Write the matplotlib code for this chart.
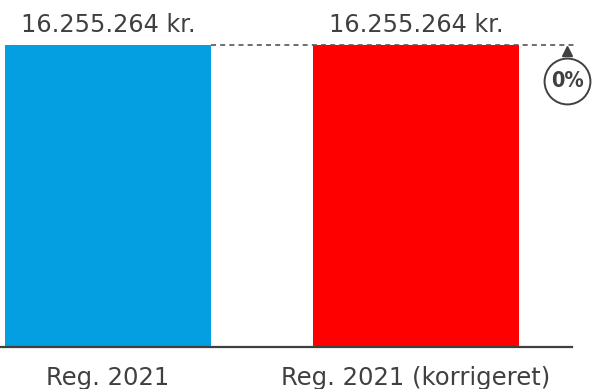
import matplotlib
matplotlib.use("Agg")
import matplotlib.pyplot as plt
from matplotlib.transforms import offset_copy

categories = ["Reg. 2021", "Reg. 2021 (korrigeret)"]
values = [16255264, 16255264]
colors = ["#039fe0", "#ff0000"]
value_labels = ["16.255.264 kr.", "16.255.264 kr."]

text_color = "#404040"
font = dict(family="DejaVu Sans")

fig = plt.figure(figsize=(5.92, 3.89), dpi=100)
ax = fig.add_axes([0, 1 - 347 / 389, 572 / 592, (347 - 45) / 389])

positions = [0, 1]
ax.bar(positions, values, width=0.669, color=colors)
ax.set_xlim(-0.3506, 1.506)
ax.set_ylim(0, max(values))

for x, v, lab in zip(positions, values, value_labels):
    ax.annotate(lab, (x, v), xytext=(0, 6), textcoords="offset points",
                ha="center", va="bottom", fontsize=17.3, color=text_color,
                annotation_clip=False, **font)

for x, lab in zip(positions, categories):
    ax.annotate(lab, (x, 0), xytext=(0, -13.5), textcoords="offset points",
                ha="center", va="top", fontsize=17.5, color=text_color,
                annotation_clip=False, **font)

# dashed reference line from first bar top across to the change badge
x_ann = positions[1] + 0.49
ax.plot([positions[0] + 0.3345, x_ann + 0.033], [values[0], values[0]],
        ls=(0, (3, 2.5)), color="#555555", lw=1.2, clip_on=False)

tri_tr = offset_copy(ax.transData, fig=fig, x=0, y=-6, units="dots")
ax.plot(x_ann, values[1], marker="^", ms=7.5, color=text_color,
        transform=tri_tr, clip_on=False)

circ_tr = offset_copy(ax.transData, fig=fig, x=0, y=-36, units="dots")
ax.plot(x_ann, values[1], marker="o", ms=33, mfc="white", mec=text_color,
        mew=1.4, transform=circ_tr, clip_on=False)
change = (values[1] - values[0]) / values[0] * 100
ax.text(x_ann, values[1], f"{change:.0f}%", transform=circ_tr, ha="center",
        va="center", fontsize=15.5, fontweight="bold", color=text_color,
        family="DejaVu Sans", stretch="condensed")

for s in ["top", "right", "left"]:
    ax.spines[s].set_visible(False)
ax.spines["bottom"].set_color(text_color)
ax.spines["bottom"].set_linewidth(1.6)
ax.set_xticks([])
ax.set_yticks([])

fig.savefig("out.png", dpi=100)
